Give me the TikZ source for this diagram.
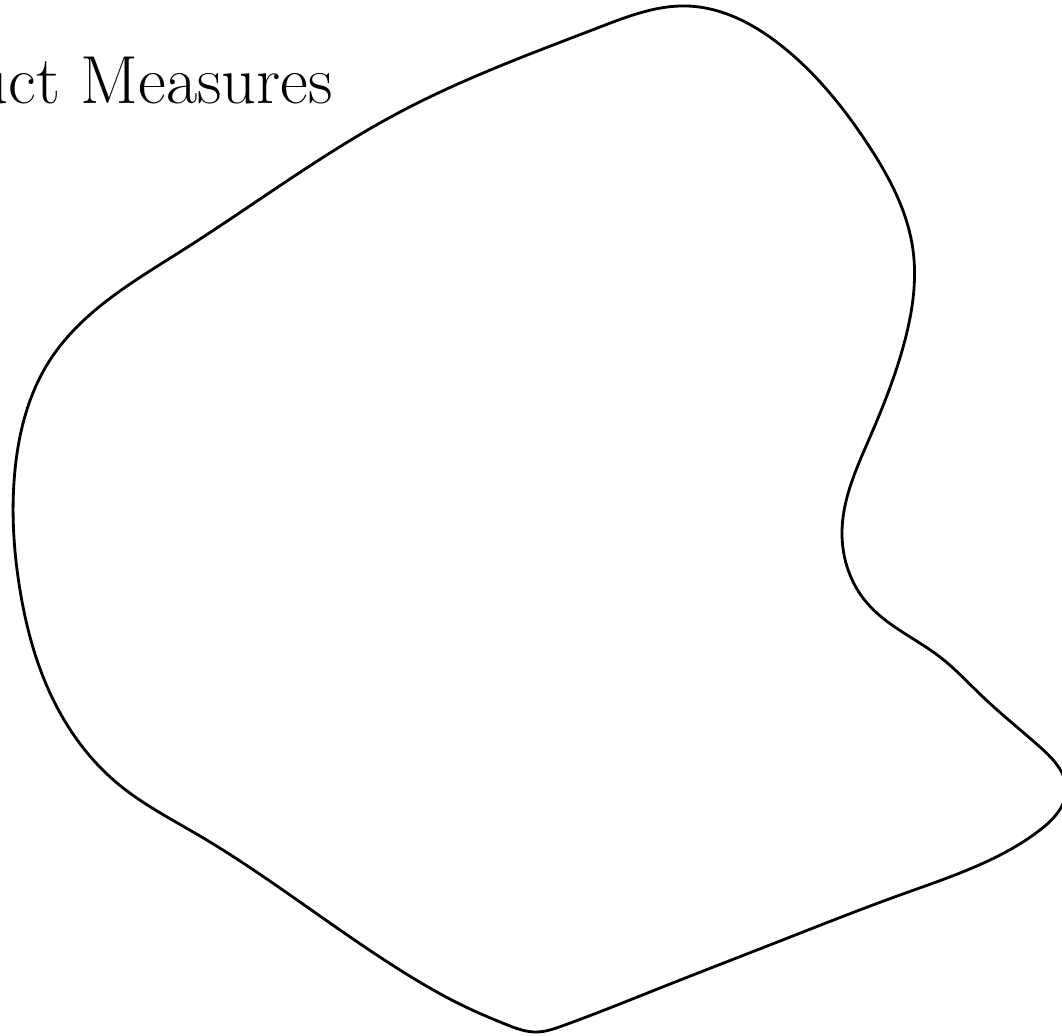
\documentclass[tikz,border=0pt]{standalone}
\usetikzlibrary{hobby}
\begin{document}
\begin{tikzpicture}[x=0.02cm,y=-0.02cm,
  blob/.style={line width=1.6pt,line join=round},
  title/.style={font=\fontsize{38.7}{46}\selectfont,inner sep=0pt}]
\useasboundingbox (0,0) rectangle (1062,1035);
\clip (0,0) rectangle (1062,1035);
\node[title,anchor=base east] (t) at (333,103) {Product Measures};
\draw[blob,use Hobby shortcut,closed=true]
 (687,6) .. (783,47) .. (867,143) .. (913,250) .. (905,340) .. (870,437)
 .. (842,533) .. (867,603) .. (940,657) .. (983,697) .. (1040,747)
 .. (1066,790) .. (1040,830) .. (990,860) .. (900,895) .. (780,941)
 .. (660,988) .. (562,1026) .. (537,1032) .. (505,1024) .. (470,1009)
 .. (400,970) .. (300,902) .. (200,836) .. (117,783) .. (50,693)
 .. (20,590) .. (15,470) .. (50,360) .. (183,250)
 .. (400,112) .. (600,27);
\end{tikzpicture}
\end{document}
